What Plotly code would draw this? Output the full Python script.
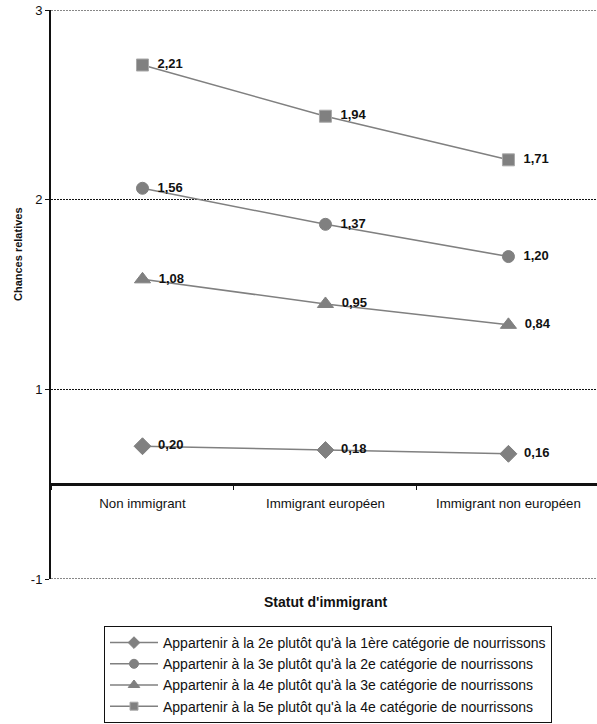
import plotly.graph_objects as go

# Données : chances relatives selon le statut d'immigrant
categories = ["Non immigrant", "Immigrant européen", "Immigrant non européen"]
serie_2e_1ere = [0.20, 0.18, 0.16]
serie_3e_2e = [1.56, 1.37, 1.20]
serie_4e_3e = [1.08, 0.95, 0.84]
serie_5e_4e = [2.21, 1.94, 1.71]

noms = [
    "Appartenir à la 2e plutôt qu'à la 1ère catégorie de nourrissons",
    "Appartenir à la 3e plutôt qu'à la 2e catégorie de nourrissons",
    "Appartenir à la 4e plutôt qu'à la 3e catégorie de nourrissons",
    "Appartenir à la 5e plutôt qu'à la 4e catégorie de nourrissons",
]
series = [serie_2e_1ere, serie_3e_2e, serie_4e_3e, serie_5e_4e]
symboles = ["diamond", "circle", "triangle-up", "square"]
tailles = [13, 12, 14, 12]
tailles_legende = [9, 9, 10, 8]

y_ticks = [-0.5, 0.5, 1.5, 2.5]
y_tick_text = ["-1", "1", "2", "3"]

GRIS = "#808080"
NOIR = "#111111"
FONT = "Liberation Sans, Arial, sans-serif"
POINTILLE = "2px,1px"

fig = go.Figure()
for i, (nom, valeurs, sym, taille, tl) in enumerate(
        zip(noms, series, symboles, tailles, tailles_legende)):
    bord = "#a8a8a8" if sym == "square" else GRIS
    etiquettes = ["\u2002" + f"{v:.2f}".replace(".", ",") for v in valeurs]
    fig.add_trace(go.Scatter(
        x=categories, y=valeurs, name=nom,
        legendgroup=f"s{i}", showlegend=False,
        mode="lines+markers+text",
        line=dict(color=GRIS, width=1.5),
        marker=dict(symbol=sym, size=taille, color=GRIS,
                    line=dict(color=bord, width=1)),
        text=etiquettes,
        textposition="middle right",
        textfont=dict(family=FONT, size=13, color=NOIR, weight="bold"),
        cliponaxis=False,
    ))
    # entrée de légende avec un symbole plus petit
    fig.add_trace(go.Scatter(
        x=[None], y=[None], name=nom,
        legendgroup=f"s{i}", showlegend=True,
        mode="lines+markers",
        line=dict(color=GRIS, width=1.5),
        marker=dict(symbol=sym, size=tl, color=GRIS,
                    line=dict(color=bord, width=1)),
    ))

plot_top, plot_bottom = 10, 579
plot_h = plot_bottom - plot_top
x_axis_pos = (plot_bottom - 485) / plot_h

# lignes de quadrillage aux extrémités de l'axe des ordonnées
for yv in (y_ticks[0], y_ticks[-1]):
    fig.add_shape(type="line", xref="paper", yref="y",
                  x0=0, x1=1, y0=yv, y1=yv,
                  line=dict(color=NOIR, width=1, dash=POINTILLE),
                  layer="below")

fig.update_layout(
    width=597, height=724,
    margin=dict(l=51, r=0, t=10, b=724 - plot_bottom),
    paper_bgcolor="white", plot_bgcolor="white",
    font=dict(family=FONT, size=13, color=NOIR),
    showlegend=True,
    legend=dict(
        x=(104 - 51) / 546, y=(plot_bottom - 723) / plot_h,
        xanchor="left", yanchor="bottom",
        bordercolor=NOIR, borderwidth=1,
        font=dict(family=FONT, size=14, color=NOIR),
        itemwidth=48, tracegroupgap=0,
        bgcolor="white",
    ),
    xaxis=dict(
        type="category",
        range=[-0.5, 2.484],
        anchor="free", position=x_axis_pos,
        showline=True, linecolor=NOIR, linewidth=1.5,
        ticks="outside", tickson="boundaries", ticklen=4,
        tickcolor=NOIR, ticklabelstandoff=6,
        showgrid=False,
        tickfont=dict(family=FONT, size=13.3, color=NOIR),
    ),
    yaxis=dict(
        range=[-0.5, 2.5],
        tickvals=y_ticks, ticktext=y_tick_text,
        showline=True, linecolor=NOIR, linewidth=2,
        ticks="outside", ticklen=4, tickcolor=NOIR,
        showgrid=True, gridcolor=NOIR, gridwidth=1, griddash=POINTILLE,
        zeroline=True, zerolinecolor=NOIR, zerolinewidth=1.5,
        tickfont=dict(family=FONT, size=13, color=NOIR),
    ),
    annotations=[
        dict(text="<b>Chances relatives</b>", x=18, y=254,
             xref="paper", yref="paper", showarrow=False,
             textangle=-90, xanchor="center", yanchor="middle",
             font=dict(family=FONT, size=11, color=NOIR)),
        dict(text="<b>Statut d'immigrant</b>", x=325, y=602,
             xref="paper", yref="paper", showarrow=False,
             xanchor="center", yanchor="middle",
             font=dict(family=FONT, size=14, color=NOIR)),
    ],
)

# Conversion des positions en pixels vers les coordonnées « paper »
for ann in fig.layout.annotations:
    ann.x = (ann.x - 51) / 546
    ann.y = (plot_bottom - ann.y) / plot_h

fig.write_html("out.html")
